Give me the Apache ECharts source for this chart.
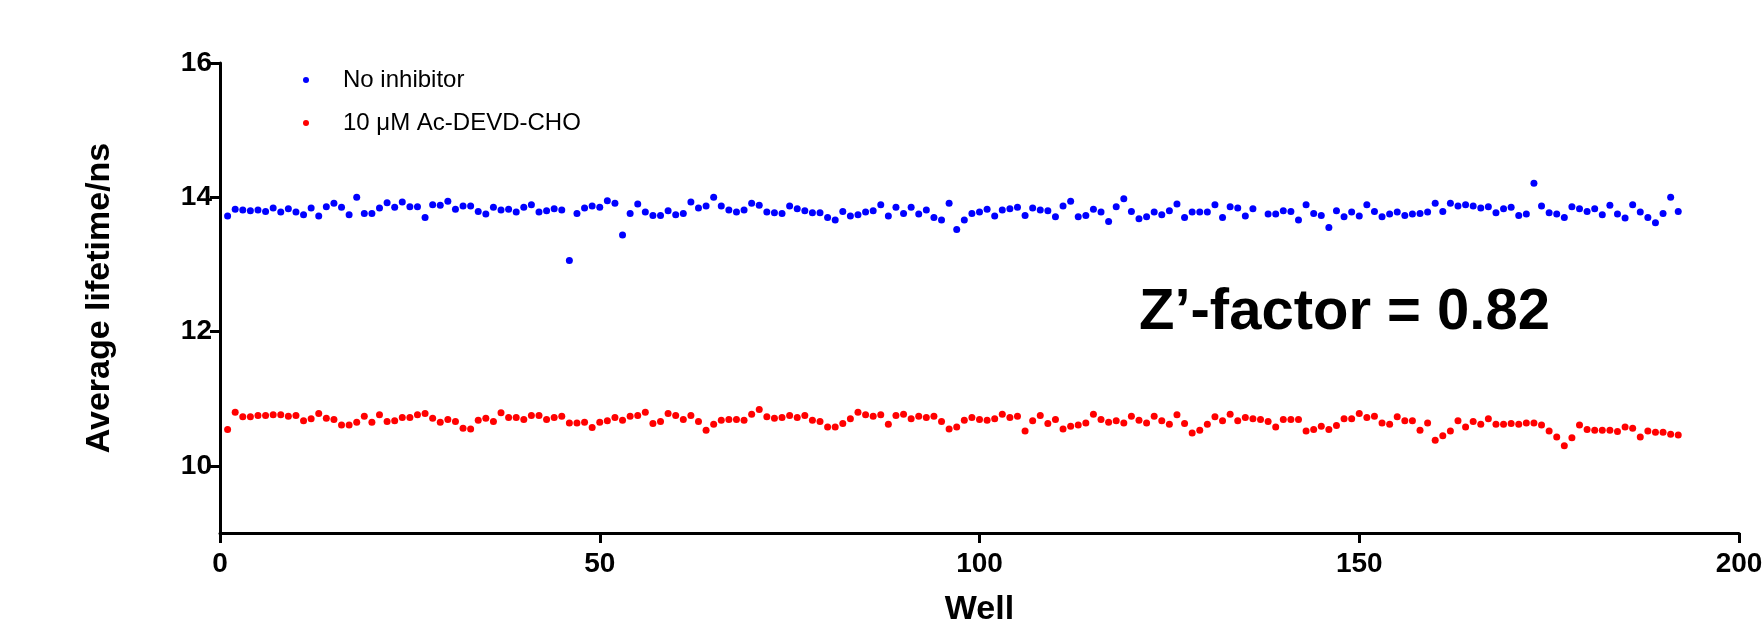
<!DOCTYPE html>
<html>
<head>
<meta charset="utf-8">
<script src="https://cdn.jsdelivr.net/npm/echarts@6/dist/echarts.min.js"></script>
<style>
html,body{margin:0;padding:0;background:#fff;}
#chart{width:1763px;height:629px;}
</style>
</head>
<body>
<div id="chart"></div>
<script>
// ---- Data ----
const seriesNames = ['No inhibitor', '10 \u03bcM Ac-DEVD-CHO'];
const xTicks = [0, 50, 100, 150, 200];
const yTicks = [10, 12, 14, 16];
const annotationText = 'Z\u2019-factor = 0.82';

// Average lifetime (ns) per well, wells 1..192
const noInhibitor = [
  13.72,13.82,13.81,13.80,13.81,13.79,13.84,13.78,13.83,13.78,
  13.74,13.84,13.72,13.86,13.91,13.85,13.74,14.00,13.76,13.76,
  13.84,13.92,13.85,13.93,13.86,13.86,13.70,13.89,13.88,13.94,
  13.82,13.87,13.87,13.79,13.75,13.85,13.81,13.82,13.78,13.85,
  13.89,13.78,13.80,13.83,13.81,13.06,13.76,13.84,13.87,13.85,
  13.95,13.91,13.44,13.76,13.90,13.78,13.73,13.73,13.80,13.74,
  13.76,13.93,13.84,13.87,14.00,13.87,13.81,13.78,13.81,13.91,
  13.88,13.78,13.77,13.76,13.87,13.83,13.80,13.77,13.77,13.70,
  13.66,13.79,13.72,13.74,13.78,13.80,13.89,13.72,13.85,13.76,
  13.85,13.75,13.81,13.70,13.66,13.91,13.52,13.66,13.76,13.78,
  13.82,13.72,13.81,13.83,13.85,13.73,13.84,13.81,13.80,13.71,
  13.87,13.94,13.71,13.73,13.82,13.78,13.64,13.86,13.98,13.79,
  13.68,13.71,13.78,13.74,13.80,13.90,13.70,13.78,13.78,13.78,
  13.89,13.70,13.86,13.84,13.72,13.83,null,13.75,13.75,13.80,
  13.79,13.66,13.89,13.76,13.73,13.55,13.80,13.71,13.78,13.72,
  13.89,13.79,13.71,13.75,13.78,13.73,13.75,13.76,13.78,13.91,
  13.79,13.91,13.87,13.89,13.87,13.84,13.86,13.77,13.83,13.85,
  13.73,13.75,14.21,13.87,13.77,13.75,13.70,13.86,13.83,13.79,
  13.83,13.74,13.88,13.75,13.69,13.89,13.78,13.70,13.62,13.76,
  14.00,13.79
];
const withInhibitor = [
  10.54,10.80,10.73,10.73,10.75,10.75,10.76,10.76,10.74,10.75,
  10.67,10.70,10.78,10.71,10.69,10.61,10.61,10.65,10.74,10.65,
  10.76,10.66,10.67,10.72,10.72,10.76,10.78,10.71,10.65,10.69,
  10.66,10.56,10.55,10.68,10.71,10.66,10.79,10.72,10.72,10.69,
  10.75,10.75,10.69,10.72,10.74,10.64,10.64,10.65,10.57,10.65,
  10.67,10.72,10.68,10.74,10.75,10.80,10.63,10.66,10.78,10.75,
  10.69,10.75,10.66,10.53,10.62,10.68,10.69,10.69,10.68,10.77,
  10.84,10.73,10.71,10.72,10.75,10.72,10.75,10.68,10.66,10.58,
  10.58,10.63,10.70,10.80,10.76,10.74,10.76,10.62,10.75,10.77,
  10.70,10.74,10.72,10.74,10.66,10.55,10.58,10.68,10.72,10.69,
  10.68,10.70,10.77,10.72,10.74,10.52,10.67,10.75,10.63,10.69,
  10.55,10.59,10.61,10.64,10.77,10.69,10.65,10.67,10.64,10.74,
  10.68,10.64,10.74,10.67,10.62,10.76,10.63,10.49,10.53,10.62,
  10.73,10.67,10.77,10.67,10.72,10.70,10.69,10.66,10.58,10.69,
  10.69,10.69,10.52,10.54,10.59,10.54,10.60,10.70,10.70,10.78,
  10.72,10.74,10.64,10.62,10.73,10.67,10.67,10.53,10.64,10.38,
  10.45,10.52,10.67,10.58,10.66,10.62,10.70,10.62,10.62,10.63,
  10.62,10.64,10.64,10.61,10.52,10.43,10.30,10.42,10.61,10.54,
  10.53,10.53,10.53,10.51,10.58,10.56,10.43,10.52,10.50,10.50,
  10.47,10.46
];

function toPoints(values) {
  const pts = [];
  values.forEach(function (v, i) { if (v !== null) pts.push([i + 1, v]); });
  return pts;
}

const FONT = '"Liberation Sans", Arial, sans-serif';
const chart = echarts.init(document.getElementById('chart'), null, {renderer: 'canvas', width: 1763, height: 629});

chart.setOption({
  backgroundColor: '#ffffff',
  animation: false,
  grid: {left: 220, right: 24, top: 63, bottom: 96, containLabel: false, outerBoundsMode: 'none'},
  legend: {
    orient: 'vertical',
    left: 303,
    top: 68,
    padding: 0,
    icon: 'circle',
    itemWidth: 6,
    itemHeight: 6,
    itemGap: 19,
    data: seriesNames,
    textStyle: {fontFamily: FONT, fontSize: 24, lineHeight: 24, color: '#000', padding: [0, 0, 0, 29]}
  },
  xAxis: {
    type: 'value',
    min: 0, max: 200, interval: 50,
    name: 'Well',
    nameLocation: 'middle',
    nameGap: 60,
    nameTextStyle: {fontFamily: FONT, fontSize: 34, fontWeight: 'bold', color: '#000'},
    axisLine: {show: true, onZero: false, lineStyle: {color: '#000', width: 3}},
    axisTick: {show: true, length: 10, lineStyle: {color: '#000', width: 3}, customValues: xTicks},
    axisLabel: {fontFamily: FONT, fontSize: 28, fontWeight: 'bold', color: '#000', margin: 17, customValues: xTicks},
    splitLine: {show: false}
  },
  yAxis: {
    type: 'value',
    min: 9, max: 16,
    name: 'Average lifetime/ns',
    nameLocation: 'middle',
    nameGap: 103,
    nameTextStyle: {fontFamily: FONT, fontSize: 34, fontWeight: 'bold', color: '#000'},
    axisLine: {show: true, onZero: false, lineStyle: {color: '#000', width: 3}},
    axisTick: {show: true, length: 10, lineStyle: {color: '#000', width: 3}, customValues: yTicks},
    axisLabel: {fontFamily: FONT, fontSize: 28, fontWeight: 'bold', color: '#000', margin: 8, customValues: yTicks},
    splitLine: {show: false}
  },
  graphic: [{
    type: 'text',
    left: 1139,
    top: 284,
    style: {text: annotationText, font: 'bold 58px ' + FONT, fill: '#000'}
  }],
  series: [
    {
      name: seriesNames[0], type: 'scatter', symbol: 'circle', symbolSize: 7,
      itemStyle: {color: '#0000ff', opacity: 1},
      data: toPoints(noInhibitor)
    },
    {
      name: seriesNames[1], type: 'scatter', symbol: 'circle', symbolSize: 7,
      itemStyle: {color: '#ff0000', opacity: 1},
      data: toPoints(withInhibitor)
    }
  ]
});
</script>
</body>
</html>
